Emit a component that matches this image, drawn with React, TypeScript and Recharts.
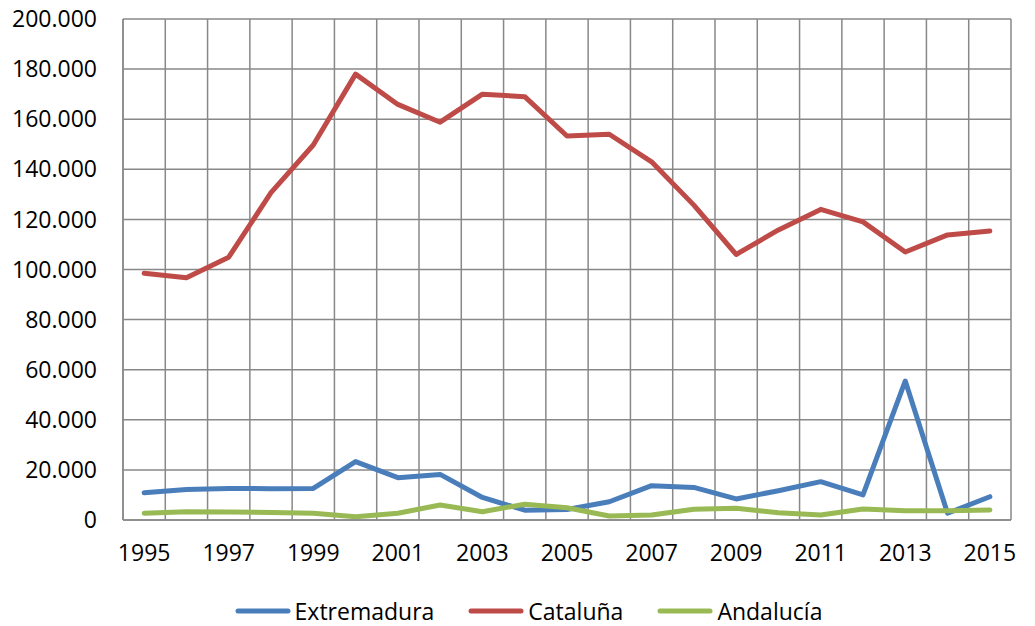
import React from 'react';
import { LineChart, Line, XAxis, YAxis, CartesianGrid, ReferenceLine, Legend } from 'recharts';

// values (people)
const years = [1995, 1996, 1997, 1998, 1999, 2000, 2001, 2002, 2003, 2004, 2005, 2006, 2007, 2008, 2009, 2010, 2011, 2012, 2013, 2014, 2015];
const extremadura = [10900, 12200, 12600, 12500, 12600, 23300, 16900, 18200, 9000, 3900, 4200, 7300, 13700, 13000, 8400, 11700, 15300, 10000, 55500, 2700, 9300];
const cataluna = [98500, 96700, 104900, 130700, 149700, 178000, 165900, 158800, 170000, 169000, 153300, 154000, 143000, 125700, 106000, 115800, 124000, 119000, 107000, 113800, 115400];
const andalucia = [2700, 3300, 3200, 3000, 2700, 1300, 2700, 6000, 3300, 6300, 4900, 1600, 2000, 4300, 4700, 2900, 2000, 4400, 3700, 3700, 4000];

const yearLabels = [1995, 1997, 1999, 2001, 2003, 2005, 2007, 2009, 2011, 2013, 2015];
const yTicks = [0, 20000, 40000, 60000, 80000, 100000, 120000, 140000, 160000, 180000, 200000];

const series = [
  { key: 'extremadura', name: 'Extremadura', color: '#4A7EBB' },
  { key: 'cataluna', name: 'Cataluña', color: '#BE4B48' },
  { key: 'andalucia', name: 'Andalucía', color: '#98B954' },
];

const data = years.map((year, i) => ({
  year,
  extremadura: extremadura[i],
  cataluna: cataluna[i],
  andalucia: andalucia[i],
}));

// category boundaries, where the vertical grid lines sit
const boundaries = [...years.map((y) => y - 0.5), years[years.length - 1] + 0.5];

const FONT = '"Open Sans", sans-serif';
const GRID = '#888888';

const formatThousands = (v: number) => String(v).replace(/\B(?=(\d{3})+(?!\d))/g, '.');

function LegendContent() {
  return (
    <div style={{ display: 'flex', justifyContent: 'center', alignItems: 'center', height: 30, paddingLeft: 22, fontFamily: FONT, fontSize: 23, color: '#000' }}>
      {series.map((s) => (
        <div key={s.key} style={{ display: 'flex', alignItems: 'center', margin: '0 17px' }}>
          <svg width={56} height={10} style={{ marginRight: 4 }}>
            <line x1={3} y1={5} x2={53} y2={5} stroke={s.color} strokeWidth={5} strokeLinecap="round" />
          </svg>
          <span>{s.name}</span>
        </div>
      ))}
    </div>
  );
}

export default function App() {
  return (
    <div>
      <style>{'body { margin: 0; }'}</style>
      <LineChart width={1035} height={626} data={data} margin={{ top: 19, right: 24, bottom: 1, left: 0 }}>
        <CartesianGrid vertical={false} stroke={GRID} strokeWidth={1.5} />
        {boundaries.map((b) => (
          <ReferenceLine key={b} x={b} stroke={GRID} strokeWidth={1.5} />
        ))}
        <XAxis
          dataKey="year"
          type="number"
          domain={[years[0] - 0.5, years[years.length - 1] + 0.5]}
          ticks={yearLabels}
          tickLine={false}
          tickSize={0}
          tickMargin={25}
          height={75}
          axisLine={{ stroke: GRID, strokeWidth: 1.5 }}
          tick={{ fill: '#000', fontSize: 23, fontFamily: FONT }}
        />
        <YAxis
          domain={[0, 200000]}
          ticks={yTicks}
          tickFormatter={formatThousands}
          width={123}
          tickLine={false}
          tickSize={0}
          tickMargin={26}
          axisLine={{ stroke: GRID, strokeWidth: 1.5 }}
          tick={{ fill: '#000', fontSize: 23, fontFamily: FONT }}
        />
        <Legend verticalAlign="bottom" content={<LegendContent />} wrapperStyle={{ bottom: 0, left: 0, width: 1035 }} />
        {series.map((s) => (
          <Line
            key={s.key}
            type="linear"
            dataKey={s.key}
            name={s.name}
            stroke={s.color}
            strokeWidth={5}
            strokeLinejoin="round"
            strokeLinecap="round"
            dot={false}
            activeDot={false}
            isAnimationActive={false}
          />
        ))}
      </LineChart>
    </div>
  );
}
